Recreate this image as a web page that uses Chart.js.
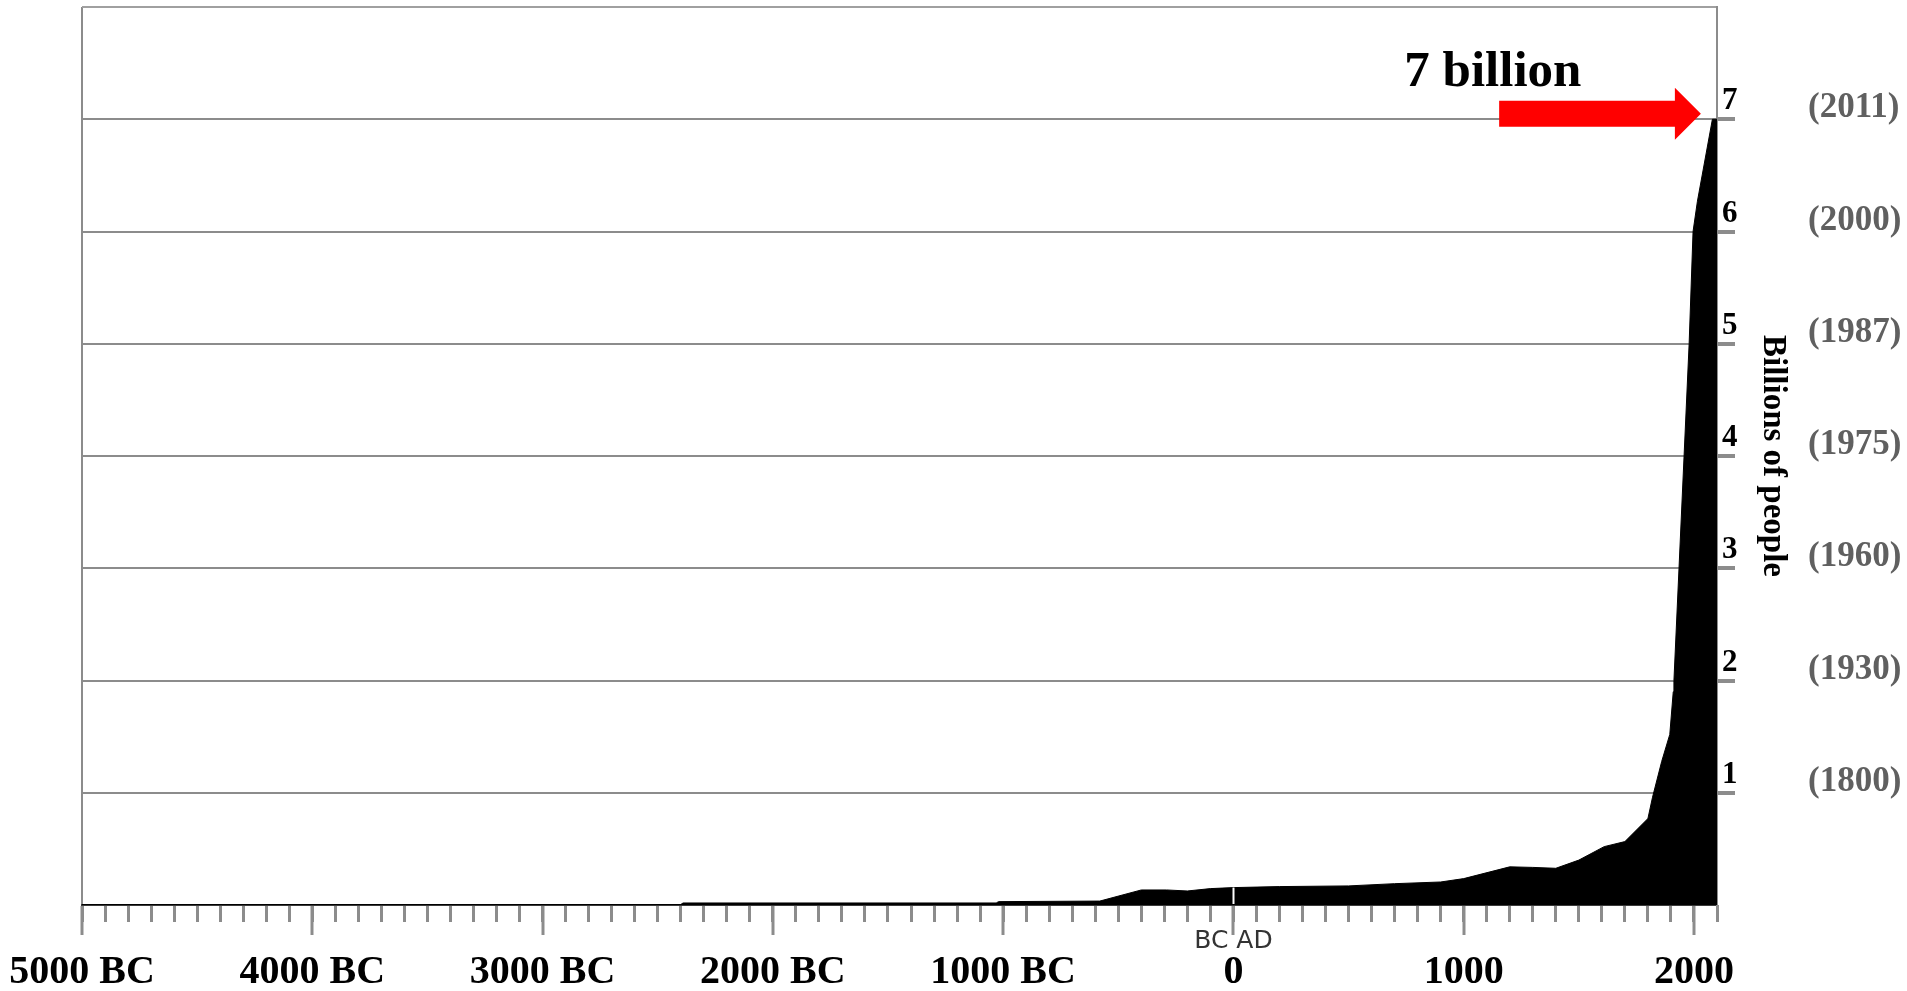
<!DOCTYPE html>
<html>
<head>
<meta charset="utf-8">
<script src="https://cdn.jsdelivr.net/npm/chart.js@4.4.0/dist/chart.umd.min.js"></script>
<style>
  html, body { margin: 0; padding: 0; background: #ffffff; }
  #wrap { width: 1907px; height: 991px; position: relative; }
</style>
</head>
<body>
<div id="wrap"><canvas id="c"></canvas></div>
<script>
// ---- data ----
const years = [-5000, -2400, -2390, -1030, -1020, -580, -400, -290, -200, -100, 0, 200, 500, 700, 900, 1000, 1200, 1300, 1400, 1500, 1610, 1700, 1800, 1820, 1860, 1895, 1910, 1913, 1935, 1957, 1979, 1996, 2015, 2080, 2100];
const billions = [0.004, 0.004, 0.018, 0.018, 0.03, 0.035, 0.134, 0.134, 0.125, 0.146, 0.155, 0.164, 0.17, 0.19, 0.205, 0.235, 0.34, 0.335, 0.327, 0.40, 0.52, 0.565, 0.77, 0.96, 1.28, 1.52, 1.9, 2, 3, 4, 5, 6, 6.27, 7, 7];

const xTickValues = [-5000, -4000, -3000, -2000, -1000, 0, 1000, 2000];
const xTickLabels = ['5000 BC', '4000 BC', '3000 BC', '2000 BC', '1000 BC', '0', '1000', '2000'];
const eraLabel = 'BC AD';
const yTickValues = [1, 2, 3, 4, 5, 6, 7];
const yTickLabels = ['1', '2', '3', '4', '5', '6', '7'];
const yearLabels = ['(1800)', '(1930)', '(1960)', '(1975)', '(1987)', '(2000)', '(2011)'];
const axisTitle = 'Billions of people';
const calloutText = '7 billion';
const calloutYear = 742, calloutLevel = 7.30;
const arrowFromYear = 1154, arrowToYear = 2030, arrowLevel = 7.05;

const GRID = '#8c8c8c';
const SERIF = '"Liberation Serif", "Times New Roman", serif';

const decor = {
  id: 'decor',
  afterDatasetsDraw(chart) {
    const { ctx, scales } = chart;
    const x = scales.x, y = scales.y;
    ctx.save();
    // BC / AD divider inside the fill
    const i0 = years.indexOf(0);
    const px = Math.round(x.getPixelForValue(0)) + 0.5;
    ctx.strokeStyle = '#ffffff';
    ctx.lineWidth = 2;
    ctx.beginPath();
    ctx.moveTo(px, y.getPixelForValue(0) - 1);
    ctx.lineTo(px, y.getPixelForValue(billions[i0]));
    ctx.stroke();
    // red arrow
    const x1 = x.getPixelForValue(arrowFromYear);
    const x2 = x.getPixelForValue(arrowToYear);
    const yc = y.getPixelForValue(arrowLevel);
    const head = 26, shaft = 13, headH = 26;
    ctx.fillStyle = '#ff0000';
    ctx.beginPath();
    ctx.moveTo(x1, yc - shaft);
    ctx.lineTo(x2 - head, yc - shaft);
    ctx.lineTo(x2 - head, yc - headH);
    ctx.lineTo(x2, yc);
    ctx.lineTo(x2 - head, yc + headH);
    ctx.lineTo(x2 - head, yc + shaft);
    ctx.lineTo(x1, yc + shaft);
    ctx.closePath();
    ctx.fill();
    // callout text
    ctx.fillStyle = '#000000';
    ctx.font = 'bold 51px ' + SERIF;
    ctx.textAlign = 'left';
    ctx.textBaseline = 'alphabetic';
    ctx.fillText(calloutText, x.getPixelForValue(calloutYear), y.getPixelForValue(calloutLevel));
    ctx.restore();
  }
};

const zeroPad = (s) => { s.paddingTop = 0; s.paddingBottom = 0; s.paddingLeft = 0; s.paddingRight = 0; };

new Chart(document.getElementById('c'), {
  type: 'line',
  data: {
    datasets: [{
      data: years.map((yr, i) => ({ x: yr, y: billions[i] })),
      xAxisID: 'x',
      yAxisID: 'y',
      fill: 'origin',
      backgroundColor: '#000000',
      borderColor: '#000000',
      borderWidth: 1,
      pointRadius: 0,
      tension: 0
    }]
  },
  options: {
    responsive: true,
    maintainAspectRatio: false,
    animation: false,
    layout: { padding: { left: 82, top: 7, right: 0, bottom: 0 } },
    plugins: { legend: { display: false }, tooltip: { enabled: false } },
    scales: {
      x: {
        type: 'linear',
        position: 'bottom',
        min: -5000,
        max: 2100,
        afterBuildTicks: (s) => { s.ticks = xTickValues.map(v => ({ value: v })); },
        afterFit: (s) => { s.height = 86; zeroPad(s); },
        ticks: {
          autoSkip: false,
          maxRotation: 0,
          padding: 14,
          color: '#000000',
          font: { family: SERIF, weight: 'bold', size: 40 },
          callback: (v) => { const i = xTickValues.indexOf(v); return i >= 0 ? xTickLabels[i] : ''; }
        },
        grid: {
          drawOnChartArea: true,
          color: (c) => (c.tick && c.tick.value === -5000) ? GRID : 'rgba(0,0,0,0)',
          lineWidth: 2,
          tickLength: 30,
          tickColor: GRID,
          tickWidth: 3
        },
        border: { display: true, color: '#3a3a3a', width: 2 }
      },
      xMinor: {
        type: 'linear',
        axis: 'x',
        position: { y: 0 },
        min: -5000,
        max: 2100,
        afterFit: (s) => { zeroPad(s); },
        ticks: {
          stepSize: 100,
          autoSkip: false,
          maxRotation: 0,
          padding: 4,
          color: '#333333',
          font: { family: '"DejaVu Sans", sans-serif', size: 25 },
          callback: (v) => v === 0 ? eraLabel : ''
        },
        grid: {
          drawOnChartArea: false,
          tickLength: 17,
          tickColor: GRID,
          tickWidth: 3,
          color: GRID
        },
        border: { display: false }
      },
      y: {
        type: 'linear',
        position: 'right',
        min: 0,
        max: 8,
        afterBuildTicks: (s) => { s.ticks = [{ value: s.min }].concat(yTickValues.map(v => ({ value: v })), [{ value: s.max }]); },
        afterFit: (s) => { s.width = 79; zeroPad(s); },
        ticks: {
          padding: -13,
          labelOffset: -18,
          color: '#000000',
          font: { family: SERIF, weight: 'bold', size: 31 },
          callback: (v) => { const i = yTickValues.indexOf(v); return i >= 0 ? yTickLabels[i] : ''; }
        },
        grid: {
          color: (c) => {
            const v = c.tick ? c.tick.value : null;
            if (v === 0) return 'rgba(0,0,0,0)';
            if (v === 8) return '#a0a0a0';
            return GRID;
          },
          lineWidth: 2,
          tickLength: 18,
          tickColor: (c) => { const v = c.tick ? c.tick.value : null; return (v > 0 && v < 8) ? GRID : 'rgba(0,0,0,0)'; },
          tickWidth: 4
        },
        border: { display: true, color: GRID, width: 2 },
        title: {
          display: true,
          text: axisTitle,
          color: '#000000',
          font: { family: SERIF, weight: 'bold', size: 33 },
          padding: { top: 4, bottom: 4 }
        }
      },
      yYears: {
        type: 'linear',
        axis: 'y',
        position: 'right',
        weight: 1,
        min: 0,
        max: 8,
        afterBuildTicks: (s) => { s.ticks = yTickValues.map(v => ({ value: v })); },
        afterFit: (s) => { s.width = 111; zeroPad(s); },
        ticks: {
          padding: 4,
          labelOffset: -11,
          color: '#606060',
          font: { family: SERIF, weight: 'bold', size: 35 },
          callback: (v) => { const i = yTickValues.indexOf(v); return i >= 0 ? yearLabels[i] : ''; }
        },
        grid: { display: false },
        border: { display: false }
      }
    }
  },
  plugins: [decor]
});
</script>
</body>
</html>
